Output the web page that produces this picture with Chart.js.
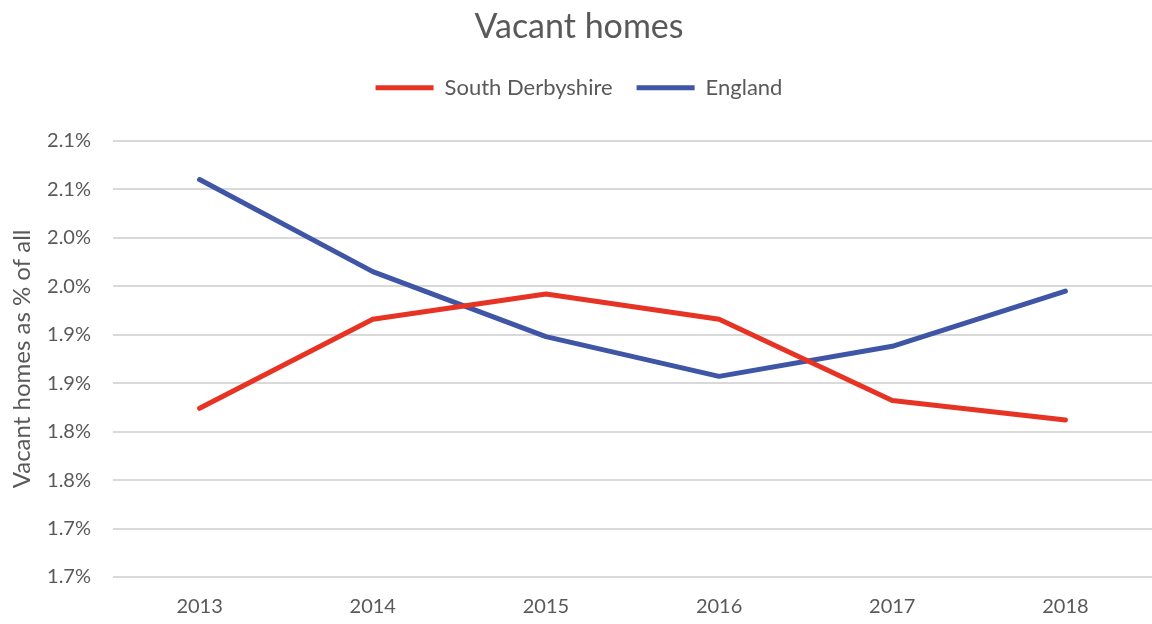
<!DOCTYPE html>
<html>
<head>
<meta charset="utf-8">
<script src="https://cdn.jsdelivr.net/npm/chart.js@4"></script>
<style>
    html, body { margin: 0; padding: 0; background: #fff; }
    #wrap { width: 1152px; height: 624px; }
</style>
</head>
<body>
<div id="wrap"><canvas id="chart" width="1152" height="624"></canvas></div>
<script>
const years = ['2013', '2014', '2015', '2016', '2017', '2018'];
const southDerbyshire = [1.824, 1.916, 1.942, 1.916, 1.832, 1.812];
const england = [2.060, 1.965, 1.898, 1.857, 1.888, 1.945];
const yMin = 1.65;
const yMax = 2.10;
const yStep = 0.05;

const grey = '#595959';
const fontFamily = 'Lato, "Open Sans", sans-serif';

// push the plot down a bit below the legend
const legendMargin = {
    id: 'legendMargin',
    beforeInit(chart) {
        const fit = chart.legend.fit;
        chart.legend.fit = function() {
            fit.bind(chart.legend)();
            this.height += 32;
        };
    }
};

const ctx = document.getElementById('chart').getContext('2d');
const chart = new Chart(ctx, {
    type: 'line',
    data: {
        labels: years,
        datasets: [
            {
                label: 'South Derbyshire',
                data: southDerbyshire,
                borderColor: '#E63323',
                backgroundColor: '#E63323',
                borderWidth: 5,
                borderCapStyle: 'round',
                borderJoinStyle: 'round',
                pointRadius: 0,
                tension: 0
            },
            {
                label: 'England',
                data: england,
                borderColor: '#3F55A5',
                backgroundColor: '#3F55A5',
                borderWidth: 5,
                borderCapStyle: 'round',
                borderJoinStyle: 'round',
                pointRadius: 0,
                tension: 0
            }
        ]
    },
    options: {
        responsive: false,
        animation: false,
        layout: { padding: { left: 6, right: 0, top: 7, bottom: 0 } },
        plugins: {
            title: {
                display: true,
                text: 'Vacant homes',
                color: grey,
                font: { family: fontFamily, size: 34, weight: 'normal' },
                padding: { top: 0, bottom: 5 }
            },
            legend: {
                position: 'top',
                labels: {
                    color: grey,
                    font: { family: fontFamily, size: 22 },
                    usePointStyle: true,
                    pointStyleWidth: 58,
                    pointStyle: 'line',
                    padding: 24
                }
            },
            tooltip: { enabled: false }
        },
        scales: {
            x: {
                offset: true,
                grid: { display: false, drawTicks: false },
                border: { display: false },
                ticks: {
                    color: grey,
                    font: { family: fontFamily, size: 20 },
                    padding: 18
                },
                afterFit: function(scale) {
                    scale.height = 47;
                }
            },
            y: {
                min: yMin,
                max: yMax,
                grid: { color: '#D9D9D9', lineWidth: 2, drawTicks: false },
                border: { display: false },
                ticks: {
                    stepSize: yStep,
                    color: grey,
                    font: { family: fontFamily, size: 20 },
                    padding: 22,
                    callback: function(value) {
                        return (value + 1e-6).toFixed(1) + '%';
                    }
                },
                title: {
                    display: true,
                    text: 'Vacant homes as % of all',
                    color: grey,
                    font: { family: fontFamily, size: 24 },
                    padding: 2
                },
                afterFit: function(scale) {
                    scale.width = 107;
                }
            }
        }
    },
    plugins: [legendMargin]
});
</script>
</body>
</html>
